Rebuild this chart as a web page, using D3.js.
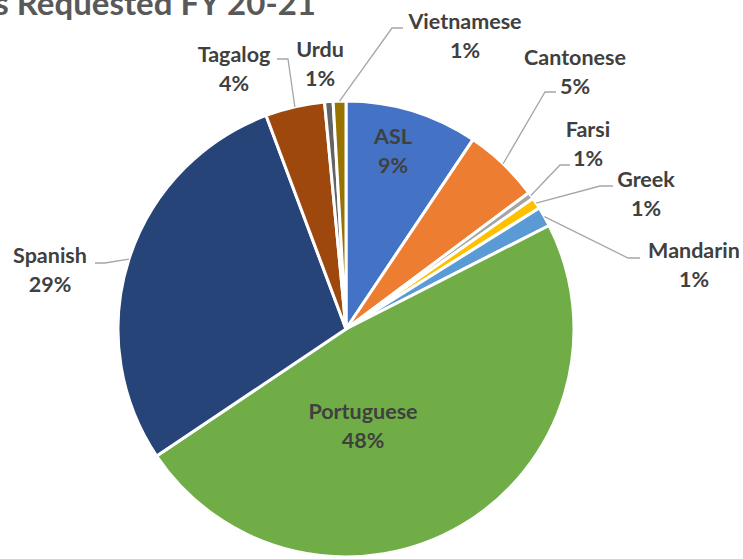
<!DOCTYPE html>
<html lang="en">
<head>
    <meta charset="UTF-8">
    <title>Languages Requested FY 20-21</title>
    <script src="https://cdn.jsdelivr.net/npm/d3@7"></script>
    <style>
        body { margin: 0; background: #fff; }
        .lbl { font-family: Lato, "Open Sans", sans-serif; font-weight: bold; font-size: 21.5px; fill: #404040; }
        .title { font-family: Lato, "Open Sans", sans-serif; font-weight: bold; font-size: 33px; fill: #595959; }
        .leader { fill: none; stroke: #a6a6a6; stroke-width: 1.3px; }
    </style>
</head>
<body>
<div id="chart"></div>
<script>
    // data (share of requests, %)
    const languages = ["ASL", "Cantonese", "Farsi", "Greek", "Mandarin", "Portuguese", "Spanish", "Tagalog", "Urdu", "Vietnamese"];
    const shares = [9.4, 5.4, 0.5, 0.8, 1.4, 48.1, 28.7, 4.2, 0.6, 0.9];
    const colors = ["#4472C4", "#ED7D31", "#A5A5A5", "#FFC000", "#5B9BD5", "#70AD47", "#264478", "#9E480E", "#636363", "#997300"];

    const width = 743, height = 559;
    const cx = 346, cy = 329, r = 228;

    // where each label sits: centre x, first baseline y, and leader elbow/end (null = no leader)
    const layout = {
        "ASL":        {x: 393, y: 144, elbow: null},
        "Cantonese":  {x: 575, y: 65,  elbow: [545, 92],  end: [556, 92]},
        "Farsi":      {x: 588, y: 137, elbow: [560, 165], end: [570, 165]},
        "Greek":      {x: 646, y: 187, elbow: [600, 186], end: [613, 186]},
        "Mandarin":   {x: 694, y: 258, elbow: [628, 258], end: [640, 258]},
        "Portuguese": {x: 363, y: 419, elbow: null},
        "Spanish":    {x: 50,  y: 263, elbow: [105, 263], end: [95, 263]},
        "Tagalog":    {x: 234, y: 62,  elbow: [288, 59],  end: [277, 59]},
        "Urdu":       {x: 320, y: 57,  elbow: null},
        "Vietnamese": {x: 465, y: 29,  elbow: [392, 28],  end: [403, 28]}
    };

    const data = languages.map((name, i) => ({name: name, value: shares[i], color: colors[i]}));
    const total = d3.sum(data, d => d.value);

    const svg = d3.select("#chart").append("svg")
        .attr("width", width)
        .attr("height", height);

    // title runs off the top-left edge, as in the source image
    svg.append("text")
        .attr("class", "title")
        .attr("text-anchor", "end")
        .attr("x", 316)
        .attr("y", 15)
        .text("Languages Requested FY 20-21");

    const pie = d3.pie().sort(null).value(d => d.value);
    const arc = d3.arc().innerRadius(0).outerRadius(r);
    const arcs = pie(data);

    const g = svg.append("g").attr("transform", "translate(" + cx + "," + cy + ")");

    g.selectAll("path.slice")
        .data(arcs)
        .enter()
        .append("path")
        .attr("class", "slice")
        .attr("d", arc)
        .attr("fill", d => d.data.color)
        .attr("stroke", "#fff")
        .attr("stroke-width", 3)
        .attr("stroke-linejoin", "round");

    // leader lines from slice edge to label
    arcs.forEach(function(d) {
        const L = layout[d.data.name];
        if (!L.elbow) return;
        const mid = (d.startAngle + d.endAngle) / 2;
        const sx = cx + r * Math.sin(mid), sy = cy - r * Math.cos(mid);
        svg.append("path")
            .attr("class", "leader")
            .attr("d", d3.line()([[sx, sy], L.elbow, L.end]));
    });

    // labels
    arcs.forEach(function(d) {
        const L = layout[d.data.name];
        const pct = Math.round(d.data.value / total * 100 + 1e-6);
        const t = svg.append("text")
            .attr("class", "lbl")
            .attr("text-anchor", "middle");
        t.append("tspan").attr("x", L.x).attr("y", L.y).text(d.data.name);
        t.append("tspan").attr("x", L.x).attr("y", L.y + 29).text(pct + "%");
    });
</script>
</body>
</html>
